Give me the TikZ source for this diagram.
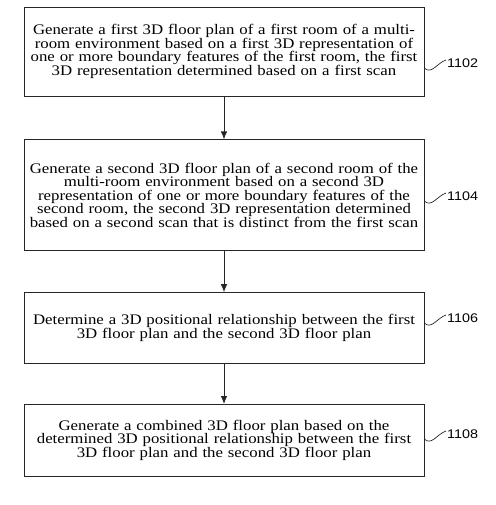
\documentclass[tikz,border=0pt]{standalone}
\usepackage{fontspec}
\setmainfont{Liberation Serif}[FakeStretch=1.15]
\newfontfamily\tagfont{Liberation Sans}[FakeStretch=1.15]
\usetikzlibrary{arrows.meta}
\usetikzlibrary{positioning}

\tikzset{
    stepbox/.style={
        rectangle, minimum width=400pt,
        draw=black!85, line width=0.8pt,
        text width=396pt, align=center, inner sep=0pt,
        font=\fontsize{14.6pt}{13.6pt}\selectfont,
    },
    flow/.style={-{Latex[length=8pt,width=6.5pt]}, draw=black!85, line width=0.8pt},
    tag/.style={anchor=west, inner sep=0pt, font=\tagfont\fontsize{12.5pt}{14pt}\selectfont},
    hook/.style={draw=black!85, line width=0.7pt},
}

\begin{document}
\begin{tikzpicture}
        \useasboundingbox (0,0) rectangle (495pt,-505pt);

        \node (step1) at(224pt,-51.5pt) [
            stepbox, minimum height=89pt,
        ] {Generate a first 3D floor plan of a first room of a multi-\\
           room environment based on a first 3D representation of\\
           one or more boundary features of the first room, the first\\
           3D representation determined based on a first scan};
        \node (step2) [
            stepbox, minimum height=111pt,
            below=43pt of step1,
        ] {Generate a second 3D floor plan of a second room of the\\
           multi-room environment based on a second 3D\\
           representation of one or more boundary features of the\\
           second room, the second 3D representation determined\\
           based on a second scan that is distinct from the first scan};
        \node (step3) [
            stepbox, minimum height=71pt,
            below=41pt of step2,
        ] {Determine a 3D positional relationship between the first\\
           3D floor plan and the second 3D floor plan};
        \node (step4) [
            stepbox, minimum height=72pt,
            below=40pt of step3,
        ] {Generate a combined 3D floor plan based on the\\
           determined 3D positional relationship between the first\\
           3D floor plan and the second 3D floor plan};

        \draw [flow] (step1) -- (step2);
        \draw [flow] (step2) -- (step3);
        \draw [flow] (step3) -- (step4);

        % reference numerals
        \node (tag1) at(447pt,-63pt) [tag] {1102};
        \node (tag2) at(447pt,-196pt) [tag] {1104};
        \node (tag3) at(447pt,-318pt) [tag] {1106};
        \node (tag4) at(447pt,-434pt) [tag] {1108};

        \coordinate (hook1) at ([yshift=-5pt]tag1.west -| step1.east);
        \coordinate (hook2) at ([yshift=-5pt]tag2.west -| step2.east);
        \coordinate (hook3) at ([yshift=-5pt]tag3.west -| step3.east);
        \coordinate (hook4) at ([yshift=-5pt]tag4.west -| step4.east);

        \draw [hook] (hook1) .. controls +(7pt,-7pt) and +(-9pt,-3pt) .. ([xshift=-1pt,yshift=3pt]tag1.west);
        \draw [hook] (hook2) .. controls +(7pt,-7pt) and +(-9pt,-3pt) .. ([xshift=-1pt,yshift=3pt]tag2.west);
        \draw [hook] (hook3) .. controls +(7pt,-7pt) and +(-9pt,-3pt) .. ([xshift=-1pt,yshift=3pt]tag3.west);
        \draw [hook] (hook4) .. controls +(7pt,-7pt) and +(-9pt,-3pt) .. ([xshift=-1pt,yshift=3pt]tag4.west);
    \end{tikzpicture}
\end{document}
